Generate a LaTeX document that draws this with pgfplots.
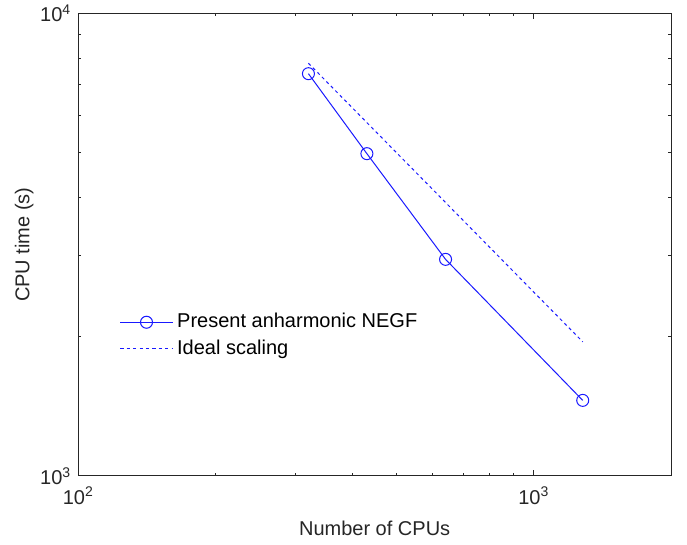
\documentclass[border=0pt]{standalone}
\usepackage{pgfplots}
\pgfplotsset{compat=1.18}
\usepackage{fontspec}
\setmainfont{Liberation Sans}
\definecolor{axgray}{RGB}{38,38,38}
\definecolor{mblue}{RGB}{25,25,255}
\begin{document}
\begin{tikzpicture}
\begin{axis}[
  name=ax,
  scale only axis,
  width=296.35pt, height=231.35pt,
  xmode=log, ymode=log,
  xmin=100, xmax=2000, ymin=1000, ymax=10000,
  xtick={100,1000}, xticklabels={10\textsuperscript{2},10\textsuperscript{3}},
  ytick={1000,10000}, yticklabels={10\textsuperscript{3},10\textsuperscript{4}},
  tick align=inside,
  xtick pos=both, ytick pos=both,
  major tick length=3pt, minor tick length=1.5pt,
  axis line style={axgray, line width=0.5pt},
  every tick/.style={axgray, line width=0.5pt},
  tick label style={font=\fontsize{10}{12}\selectfont, text=axgray},
  label style={font=\fontsize{10}{12}\selectfont, text=axgray},
  xlabel={Number of CPUs},
  ylabel={CPU time (s)},
  xticklabel style={yshift=-2pt},
  xlabel style={yshift=-1.5pt},
  ylabel style={yshift=-3.5pt},
  legend style={draw=none, fill=none, at={(0.066,0.365)}, anchor=north west,
    font=\fontsize{10}{12.5}\selectfont, row sep=0.5pt, inner sep=1pt},
  legend cell align=left,
  legend image code/.code={
    \draw[mark repeat=2,mark phase=2,#1] plot coordinates {(0cm,0cm) (0.46cm,0cm) (0.92cm,0cm)};
  },
]
\addplot[mblue, line width=0.5pt, mark=o, mark size=3pt, mark options={solid, line width=0.5pt}]
  coordinates {(320,7405) (430,4973) (640,2939) (1280,1457)};
\addlegendentry{Present anharmonic NEGF}
\addplot[mblue, line width=0.5pt, dash pattern=on 1.6pt off 1.6pt]
  coordinates {(320,7800) (1280,1950)};
\addlegendentry{Ideal scaling}
\end{axis}
\pgfresetboundingbox
\path[use as bounding box] ([shift={(-39.15pt,-34pt)}]ax.south west) rectangle ([shift={(8pt,6.65pt)}]ax.north east);
\end{tikzpicture}
\end{document}
